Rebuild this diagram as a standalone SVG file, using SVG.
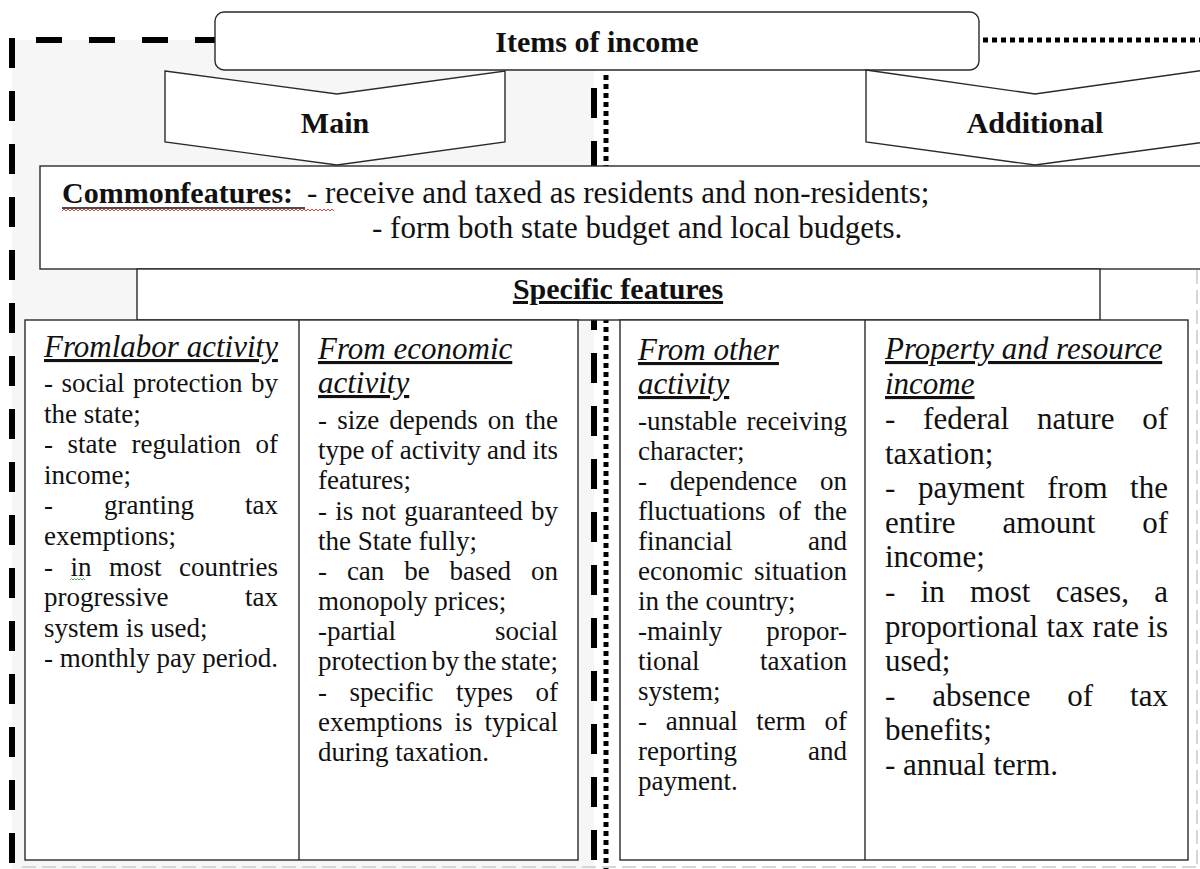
<svg xmlns="http://www.w3.org/2000/svg" width="1200" height="869" viewBox="0 0 1200 869">
<style>
.t{font-family:"Liberation Serif","Times New Roman",serif;fill:#111}
.s27{font-size:27px}
.s31{font-size:31px}
.hd{font-size:31px;font-style:italic;text-decoration:underline}
.bd{font-weight:bold;font-size:30px}
.box{fill:#fff;stroke:#2a2a2a;stroke-width:1.4}
.thick{stroke:#000;stroke-width:6;fill:none}
.dots{stroke:#000;stroke-width:5;fill:none;stroke-dasharray:5 4}
.faint{stroke:#d6d6d6;stroke-width:2;fill:none;stroke-dasharray:14 6}
</style>
<rect width="1200" height="869" fill="#fff"/>
<rect x="12" y="40" width="582" height="829" fill="#f6f6f6"/>

<g id="frames">
  <line class="thick" x1="36" y1="40" x2="216" y2="40" stroke-dasharray="26 27"/>
  <line class="thick" x1="12" y1="38" x2="12" y2="869" stroke-dasharray="30 23"/>
  <line class="dots" x1="983" y1="40" x2="1200" y2="40"/>
  <line class="thick" x1="594" y1="88" x2="594" y2="869" stroke-dasharray="30 23"/>
  <line class="dots" x1="606" y1="75" x2="606" y2="869"/>
  <line class="faint" x1="1197" y1="270" x2="1197" y2="869"/>
  <line class="faint" x1="22" y1="867" x2="1200" y2="867"/>
</g>

<g id="title">
  <rect class="box" x="215" y="12" width="764" height="58" rx="9"/>
  <text class="t bd" x="597" y="52" text-anchor="middle">Items of income</text>
</g>

<g id="main">
  <polygon class="box" points="165,71 337,94 505,71 505,142 337,165 165,142"/>
  <text class="t bd" x="335" y="133" text-anchor="middle">Main</text>
</g>

<g id="additional">
  <polygon class="box" points="866,70 1035,94 1205,70 1205,142 1035,165 866,142"/>
  <text class="t bd" x="1035" y="133" text-anchor="middle">Additional</text>
</g>

<g id="common">
  <rect class="box" x="40" y="166" width="1175" height="103"/>
  <text class="t bd" x="62" y="203">Commonfeatures:</text>
  <line x1="62" y1="208" x2="305" y2="208" stroke="#111" stroke-width="1.5"/>
  <path d="M62,211 l2,-2 l2,2 l2,-2 l2,2 l2,-2 l2,2 l2,-2 l2,2 l2,-2 l2,2 l2,-2 l2,2 l2,-2 l2,2 l2,-2 l2,2 l2,-2 l2,2 l2,-2 l2,2 l2,-2 l2,2 l2,-2 l2,2 l2,-2 l2,2 l2,-2 l2,2 l2,-2 l2,2 l2,-2 l2,2 l2,-2 l2,2 l2,-2 l2,2 l2,-2 l2,2 l2,-2 l2,2 l2,-2 l2,2 l2,-2 l2,2 l2,-2 l2,2 l2,-2 l2,2 l2,-2 l2,2 l2,-2 l2,2 l2,-2 l2,2 l2,-2 l2,2 l2,-2 l2,2 l2,-2 l2,2 l2,-2 l2,2 l2,-2 l2,2 l2,-2 l2,2 l2,-2 l2,2 l2,-2 l2,2 l2,-2 l2,2 l2,-2 l2,2 l2,-2 l2,2 l2,-2 l2,2 l2,-2 l2,2 l2,-2 l2,2 l2,-2 l2,2 l2,-2 l2,2 l2,-2 l2,2 l2,-2 l2,2 l2,-2 l2,2 l2,-2 l2,2 l2,-2 l2,2 l2,-2 l2,2 l2,-2 l2,2 l2,-2 l2,2 l2,-2 l2,2 l2,-2 l2,2 l2,-2 l2,2 l2,-2 l2,2 l2,-2 l2,2 l2,-2 l2,2 l2,-2 l2,2 l2,-2 l2,2 l2,-2 l2,2 l2,-2 l2,2 l2,-2 l2,2 l2,-2 l2,2 l2,-2 l2,2 l2,-2 l2,2 l2,-2 l2,2 l2,-2 l2,2 l2,-2 l2,2" fill="none" stroke="#e03030" stroke-width="0.9"/>
  <text class="t s31" x="307" y="203">- receive and taxed as residents and non-residents;</text>
  <text class="t s31" x="372" y="238">- form both state budget and local budgets.</text>
</g>

<g id="specific">
  <rect class="box" x="137" y="269" width="963" height="51"/>
  <text class="t bd" x="618" y="299" text-anchor="middle" text-decoration="underline">Specific features</text>
</g>

<g id="left-boxes">
  <rect class="box" x="25" y="320" width="553" height="540"/>
  <line x1="299" y1="320" x2="299" y2="860" stroke="#2a2a2a" stroke-width="1.4"/>
</g>
<g id="right-boxes">
  <rect class="box" x="620" y="320" width="568" height="540"/>
  <line x1="865" y1="320" x2="865" y2="860" stroke="#2a2a2a" stroke-width="1.4"/>
</g>

<g id="labor" class="t s27">
  <text class="hd" x="44" y="357">Fromlabor activity</text>
  <text x="44" y="392" word-spacing="1.8" textLength="234" lengthAdjust="spacing">- social protection by</text>
  <text x="44" y="422.6">the state;</text>
  <text x="44" y="453.2" word-spacing="7.8" textLength="234" lengthAdjust="spacing">- state regulation of</text>
  <text x="44" y="483.8">income;</text>
  <text x="44" y="514.4" word-spacing="44.3" textLength="234" lengthAdjust="spacing">- granting tax</text>
  <text x="44" y="545">exemptions;</text>
  <text x="44" y="575.6" word-spacing="10.8" textLength="234" lengthAdjust="spacing">- in most countries</text>
  <path d="M70,580 l1.5,-1.5 l1.5,1.5 l1.5,-1.5 l1.5,1.5 l1.5,-1.5 l1.5,1.5 l1.5,-1.5 l1.5,1.5 l1.5,-1.5 l1.5,1.5" fill="none" stroke="#3a9a3a" stroke-width="0.9"/>
  <text x="44" y="606.2" word-spacing="69.8" textLength="234" lengthAdjust="spacing">progressive tax</text>
  <text x="44" y="636.8">system is used;</text>
  <text x="44" y="667.4">- monthly pay period.</text>
</g>

<g id="economic" class="t s27">
  <text class="hd" x="318" y="359">From economic</text>
  <text class="hd" x="318" y="393">activity</text>
  <text x="318" y="429" word-spacing="3.4" textLength="240" lengthAdjust="spacing">- size depends on the</text>
  <text x="318" y="459" word-spacing="-0.4" textLength="240" lengthAdjust="spacing">type of activity and its</text>
  <text x="318" y="489">features;</text>
  <text x="318" y="519.5" word-spacing="1.5" textLength="240" lengthAdjust="spacing">- is not guaranteed by</text>
  <text x="318" y="549.5">the State fully;</text>
  <text x="318" y="580" word-spacing="13.1" textLength="240" lengthAdjust="spacing">- can be based on</text>
  <text x="318" y="610">monopoly prices;</text>
  <text x="318" y="640" word-spacing="92.3" textLength="240" lengthAdjust="spacing">-partial social</text>
  <text x="318" y="670" word-spacing="-2.2" textLength="240" lengthAdjust="spacing">protection by the state;</text>
  <text x="318" y="700.5" word-spacing="15.8" textLength="240" lengthAdjust="spacing">- specific types of</text>
  <text x="318" y="730.5" word-spacing="5.2" textLength="240" lengthAdjust="spacing">exemptions is typical</text>
  <text x="318" y="760.5">during taxation.</text>
</g>

<g id="other" class="t s27">
  <text class="hd" x="638" y="360">From other</text>
  <text class="hd" x="638" y="394">activity</text>
  <text x="638" y="430" word-spacing="2.8" textLength="209" lengthAdjust="spacing">-unstable receiving</text>
  <text x="638" y="460">character;</text>
  <text x="638" y="490" word-spacing="16" textLength="209" lengthAdjust="spacing">- dependence on</text>
  <text x="638" y="520" word-spacing="6.3" textLength="209" lengthAdjust="spacing">fluctuations of the</text>
  <text x="638" y="550" word-spacing="68.8" textLength="209" lengthAdjust="spacing">financial and</text>
  <text x="638" y="580" word-spacing="4.3" textLength="209" lengthAdjust="spacing">economic situation</text>
  <text x="638" y="610">in the country;</text>
  <text x="638" y="640" word-spacing="37.3" textLength="209" lengthAdjust="spacing">-mainly propor-</text>
  <text x="638" y="670" word-spacing="53.7" textLength="209" lengthAdjust="spacing">tional taxation</text>
  <text x="638" y="700">system;</text>
  <text x="638" y="730" word-spacing="11.9" textLength="209" lengthAdjust="spacing">- annual term of</text>
  <text x="638" y="760" word-spacing="64.3" textLength="209" lengthAdjust="spacing">reporting and</text>
  <text x="638" y="790">payment.</text>
</g>

<g id="property" class="t s31">
  <text class="hd" x="885" y="359">Property and resource</text>
  <text class="hd" x="885" y="394">income</text>
  <text x="885" y="429" word-spacing="20" textLength="283" lengthAdjust="spacing">- federal nature of</text>
  <text x="885" y="463.6">taxation;</text>
  <text x="885" y="498.2" word-spacing="14.8" textLength="283" lengthAdjust="spacing">- payment from the</text>
  <text x="885" y="532.8" word-spacing="39" textLength="283" lengthAdjust="spacing">entire amount of</text>
  <text x="885" y="567.4">income;</text>
  <text x="885" y="602" word-spacing="17.6" textLength="283" lengthAdjust="spacing">- in most cases, a</text>
  <text x="885" y="636.6" word-spacing="0.5" textLength="283" lengthAdjust="spacing">proportional tax rate is</text>
  <text x="885" y="671.2">used;</text>
  <text x="885" y="705.8" word-spacing="29.2" textLength="283" lengthAdjust="spacing">- absence of tax</text>
  <text x="885" y="740.4">benefits;</text>
  <text x="885" y="775">- annual term.</text>
</g>
</svg>
